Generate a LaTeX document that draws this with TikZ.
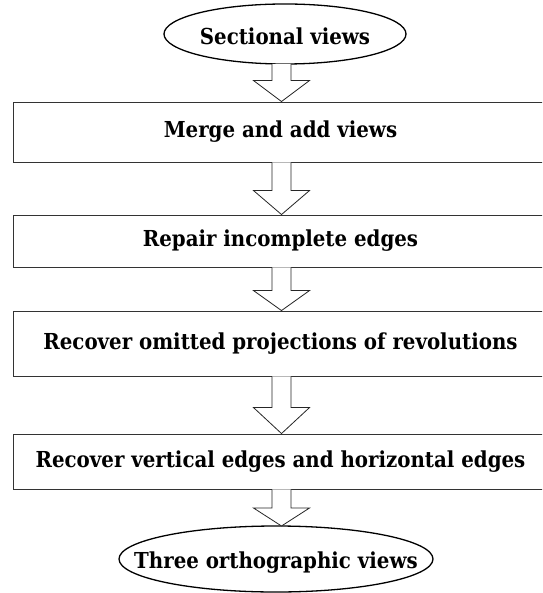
\documentclass[tikz,border=0pt]{standalone}
\usepackage{fontspec}
\setmainfont{DejaVu Serif Condensed}
\usetikzlibrary{calc}
\tikzset{
  lbl/.style={inner sep=0pt, font=\bfseries\fontsize{22}{24}\selectfont},
  stepbox/.style={draw=black!80, line width=0.9pt, minimum width=535pt, inner sep=0pt, font=\bfseries\fontsize{22}{24}\selectfont},
  ell/.style={draw=black, line width=1.3pt},
  blockarr/.style={draw=black!85, line width=0.8pt, fill=white, line join=miter}
}
\newcommand\barrow[3]{%
  \draw[blockarr] let \p1=(#1.south), \p2=(#2.north) in
    (272pt,\y1) -- (272pt,\y2+#3) -- (253.5pt,\y2+#3) -- (281.5pt,\y2)
    -- (309.5pt,\y2+#3) -- (291pt,\y2+#3) -- (291pt,\y1);}
\begin{document}
\begin{tikzpicture}[x=1pt,y=-1pt]
\useasboundingbox (0,0) rectangle (542,593);
\clip (0,0) rectangle (542,593);
\fill[white] (0,0) rectangle (542,593);
% top ellipse
\node[lbl] (sv) at (285,36) {Sectional views};
\draw[ell] (285,34) ellipse [x radius=121pt, y radius=30pt];
\coordinate (svb) at (281.5,64);
% boxes
\node[stepbox, minimum height=60pt] (b1) at (280.5,132) {Merge and add views};
\node[stepbox, minimum height=52pt] (b2) at (280.5,241) {Repair incomplete edges};
\node[stepbox, minimum height=65pt] (b3) at (280.5,343.5) {Recover omitted projections of revolutions};
\node[stepbox, minimum height=55pt] (b4) at (280.5,461.5) {Recover vertical edges and horizontal edges};
% bottom ellipse
\node[lbl] (tov) at (276,563) {Three orthographic views};
\draw[ell] (276,559) ellipse [x radius=157pt, y radius=33pt];
\coordinate (tovt) at (281.5,526);
% arrows
\draw[blockarr] let \p1=(svb), \p2=(b1.north) in
    (272pt,\y1) -- (272pt,\y2+21pt) -- (253.5pt,\y2+21pt) -- (281.5pt,\y2)
    -- (309.5pt,\y2+21pt) -- (291pt,\y2+21pt) -- (291pt,\y1);
\barrow{b1}{b2}{24pt}
\barrow{b2}{b3}{20pt}
\barrow{b3}{b4}{26pt}
\draw[blockarr] let \p1=(b4.south), \p2=(tovt) in
    (272pt,\y1) -- (272pt,\y2+18pt) -- (253.5pt,\y2+18pt) -- (281.5pt,\y2)
    -- (309.5pt,\y2+18pt) -- (291pt,\y2+18pt) -- (291pt,\y1);
\end{tikzpicture}
\end{document}
